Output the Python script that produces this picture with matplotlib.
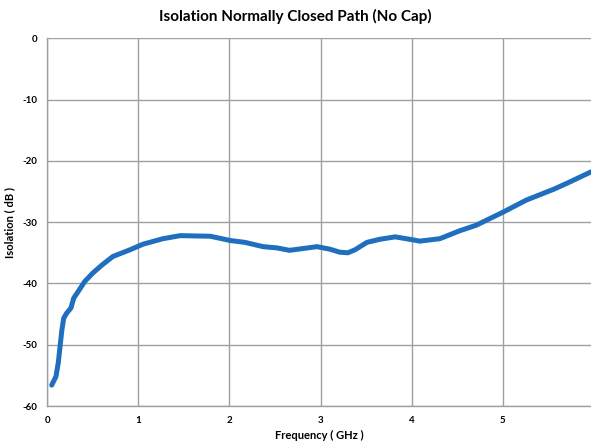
import matplotlib
matplotlib.use("Agg")
import matplotlib.pyplot as plt

freq_ghz = [0.048, 0.095, 0.12, 0.14, 0.16, 0.18, 0.21, 0.26, 0.29, 0.34, 0.41, 0.50, 0.60, 0.72,
            0.91, 1.05, 1.27, 1.46, 1.79, 2.01, 2.17, 2.37, 2.52, 2.66, 2.81, 2.96, 3.10, 3.21,
            3.30, 3.38, 3.51, 3.65, 3.82, 4.02, 4.09, 4.20, 4.31, 4.53, 4.71, 5.00, 5.26, 5.48,
            5.55, 5.70, 5.97]
isolation_db = [-56.6, -55.2, -53.0, -50.3, -47.6, -45.7, -44.9, -44.0, -42.4, -41.3, -39.7, -38.3,
                -37.0, -35.6, -34.5, -33.6, -32.7, -32.2, -32.3, -33.0, -33.3, -34.0, -34.2, -34.6,
                -34.3, -34.0, -34.4, -34.9, -35.0, -34.5, -33.3, -32.8, -32.4, -32.9, -33.1, -32.9,
                -32.7, -31.4, -30.5, -28.4, -26.4, -25.1, -24.7, -23.7, -21.8]
x_ticks = [0, 1, 2, 3, 4, 5]
y_ticks = [0, -10, -20, -30, -40, -50, -60]

plt.rcParams['font.family'] = ['Lato', 'DejaVu Sans']

fig = plt.figure(figsize=(5.91, 4.46), dpi=100)
ax = fig.add_axes([47.3 / 591, 40 / 446, (591 - 47.3) / 591, (406 - 38.3) / 446])

ax.plot(freq_ghz, isolation_db, color='#1f6fbe', linewidth=3.6, solid_capstyle='round',
        solid_joinstyle='round', zorder=3)

ax.set_xlim(0, 5.97)
ax.set_ylim(-60, 0)
ax.set_xticks(x_ticks)
ax.set_yticks(y_ticks)
ax.set_xticklabels([str(t) for t in x_ticks], fontsize=7, fontweight='bold')
ax.set_yticklabels([str(t) for t in y_ticks], fontsize=7, fontweight='bold')
ax.tick_params(length=0, pad=7)
ax.grid(True, color='#a0a0a0', linewidth=1.0)
ax.set_axisbelow(True)
for s in ['top', 'right']:
    ax.spines[s].set_visible(False)
for s in ['left', 'bottom']:
    ax.spines[s].set_color('#a0a0a0')
    ax.spines[s].set_linewidth(1.0)

ax.set_xlabel('Frequency ( GHz )', fontsize=8, fontweight='bold', labelpad=4)
ax.set_ylabel('Isolation ( dB )', fontsize=8, fontweight='bold')
ax.yaxis.set_label_coords(-0.059, 0.5)
fig.text(0.5, 1 - 16 / 446, 'Isolation Normally Closed Path (No Cap)', ha='center', va='center',
         fontsize=11, fontweight='bold')

fig.savefig('out.png', dpi=100)
